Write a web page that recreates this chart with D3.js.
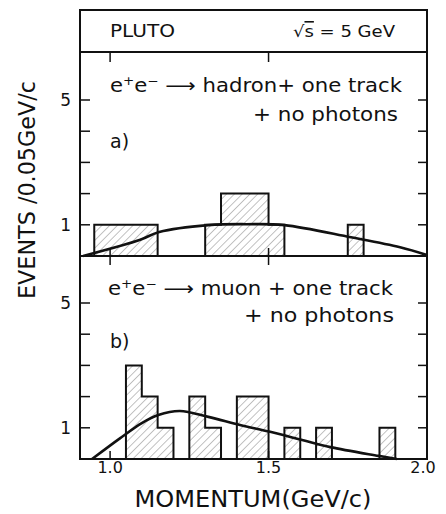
<!DOCTYPE html>
<html>
<head>
<meta charset="utf-8">
<script src="https://cdn.jsdelivr.net/npm/d3@7/dist/d3.min.js"></script>
<style>
  body { margin: 0; background: #fff; }
  text { font-family: "DejaVu Sans", "Noto Sans", sans-serif; fill: #111; }
</style>
</head>
<body>
<svg id="chart"></svg>
<script>
// histogram bins (left edge, GeV/c) and counts per 0.05 GeV/c
var binWidth = 0.05;
var histA_lo = [0.95, 1.00, 1.05, 1.10, 1.30, 1.35, 1.40, 1.45, 1.50, 1.75];
var histA_n  = [1, 1, 1, 1, 1, 2, 2, 2, 1, 1];
var histB_lo = [1.05, 1.10, 1.15, 1.25, 1.30, 1.40, 1.45, 1.55, 1.65, 1.85];
var histB_n  = [3, 2, 1, 2, 1, 2, 2, 1, 1, 1];

// expected spectra (smooth curves)
var curveA_x = [0.915, 1.095, 1.155, 1.31, 1.43, 1.55, 1.76, 1.915, 2.0];
var curveA_y = [0.0, 0.52, 0.77, 0.99, 1.02, 0.99, 0.6, 0.28, 0.03];
var curveB_x = [0.943, 1.032, 1.10, 1.152, 1.22, 1.31, 1.41, 1.505, 1.606, 1.695, 1.847, 1.905];
var curveB_y = [0.0, 0.67, 1.15, 1.41, 1.54, 1.35, 1.09, 0.87, 0.61, 0.38, 0.1, 0.0];

var xTicks = [1.0, 1.5, 2.0];
var xTickLabels = ["1.0", "1.5", "2.0"];
var yTicks = [1, 2, 3, 4, 5];
var yTickLabels = {1: "1", 5: "5"};

var W = 446, H = 514;
var frameL = 80, frameR = 427, frameT = 10, headerB = 52, midY = 256, frameB = 459;

var svg = d3.select("#chart").attr("width", W).attr("height", H);

var x = d3.scaleLinear().domain([0.905, 2.0]).range([frameL, frameR]);
var yA = d3.scaleLinear().domain([0, 5]).range([midY, 100]);
var yB = d3.scaleLinear().domain([0, 5]).range([frameB, 303]);

// hatch pattern
var defs = svg.append("defs");
var pat = defs.append("pattern")
	.attr("id", "hatch")
	.attr("patternUnits", "userSpaceOnUse")
	.attr("width", 5.5).attr("height", 5.5)
	.attr("patternTransform", "rotate(45)");
pat.append("line")
	.attr("x1", 0).attr("y1", 0).attr("x2", 0).attr("y2", 5.5)
	.attr("stroke", "#666").attr("stroke-width", 0.8);

// turn bins into step outlines of contiguous groups
function stepPaths(lo, n, y) {
	var groups = [], cur = null;
	lo.forEach(function(l, i) {
		if (cur && Math.abs(l - cur.end) < 1e-6) {
			cur.bins.push([l, n[i]]);
			cur.end = l + binWidth;
		} else {
			cur = {bins: [[l, n[i]]], end: l + binWidth};
			groups.push(cur);
		}
	});
	return groups.map(function(g) {
		var p = d3.path();
		p.moveTo(x(g.bins[0][0]), y(0));
		g.bins.forEach(function(b) {
			p.lineTo(x(b[0]), y(b[1]));
			p.lineTo(x(b[0] + binWidth), y(b[1]));
		});
		p.lineTo(x(g.end), y(0));
		p.closePath();
		return p.toString();
	});
}

function drawPanel(lo, n, cx, cy, y) {
	svg.append("g").selectAll("path")
		.data(stepPaths(lo, n, y))
		.enter().append("path")
		.attr("d", function(d) { return d; })
		.attr("fill", "url(#hatch)")
		.attr("stroke", "#111")
		.attr("stroke-width", 2);

	var pts = cx.map(function(v, i) { return [v, cy[i]]; });
	svg.append("path")
		.datum(pts)
		.attr("fill", "none")
		.attr("stroke", "#111")
		.attr("stroke-width", 2.6)
		.attr("d", d3.line()
			.x(function(d) { return x(d[0]); })
			.y(function(d) { return y(d[1]); })
			.curve(d3.curveCatmullRom));

	// y ticks, left and right, inward
	svg.append("g").selectAll("line.l")
		.data(yTicks).enter().append("line")
		.attr("x1", frameL).attr("x2", frameL + 10)
		.attr("y1", function(d) { return y(d); })
		.attr("y2", function(d) { return y(d); })
		.attr("stroke", "#111").attr("stroke-width", 1.5);
	svg.append("g").selectAll("line.r")
		.data(yTicks).enter().append("line")
		.attr("x1", frameR).attr("x2", frameR - 9)
		.attr("y1", function(d) { return y(d); })
		.attr("y2", function(d) { return y(d); })
		.attr("stroke", "#111").attr("stroke-width", 1.5);
	svg.append("g").selectAll("text")
		.data(yTicks.filter(function(d) { return yTickLabels[d]; }))
		.enter().append("text")
		.attr("x", 71)
		.attr("y", function(d) { return y(d) + 6; })
		.attr("text-anchor", "end")
		.style("font-size", "17px")
		.text(function(d) { return yTickLabels[d]; });
}

drawPanel(histA_lo, histA_n, curveA_x, curveA_y, yA);
drawPanel(histB_lo, histB_n, curveB_x, curveB_y, yB);

// frame
svg.append("rect")
	.attr("x", frameL).attr("y", frameT)
	.attr("width", frameR - frameL).attr("height", frameB - frameT)
	.attr("fill", "none").attr("stroke", "#111").attr("stroke-width", 2);
svg.append("line")
	.attr("x1", frameL).attr("x2", frameR).attr("y1", headerB).attr("y2", headerB)
	.attr("stroke", "#111").attr("stroke-width", 2);
svg.append("line")
	.attr("x1", frameL).attr("x2", frameR).attr("y1", midY).attr("y2", midY)
	.attr("stroke", "#111").attr("stroke-width", 2);

// x ticks: top of panel a, across the divider, bottom of panel b
var inner = xTicks.filter(function(d) { return d < 2.0; });
var tickSegs = [];
inner.forEach(function(d) {
	tickSegs.push([d, headerB, headerB + 10]);
	tickSegs.push([d, midY - 8, midY + 9]);
	tickSegs.push([d, frameB - 8, frameB]);
});
svg.append("g").selectAll("line")
	.data(tickSegs).enter().append("line")
	.attr("x1", function(d) { return x(d[0]); })
	.attr("x2", function(d) { return x(d[0]); })
	.attr("y1", function(d) { return d[1]; })
	.attr("y2", function(d) { return d[2]; })
	.attr("stroke", "#111").attr("stroke-width", 1.5);

svg.append("g").selectAll("text")
	.data(xTicks).enter().append("text")
	.attr("x", function(d) { return x(d) - (d === 2.0 ? 4 : 0); })
	.attr("y", 473)
	.attr("text-anchor", "middle")
	.style("font-size", "16px")
	.text(function(d, i) { return xTickLabels[i]; });

// axis titles
svg.append("text")
	.attr("x", 253).attr("y", 507)
	.attr("text-anchor", "middle")
	.attr("textLength", 237).attr("lengthAdjust", "spacingAndGlyphs")
	.style("font-size", "23px")
	.text("MOMENTUM(GeV/c)");

svg.append("text")
	.attr("transform", "translate(35,190) rotate(-90)")
	.attr("text-anchor", "middle")
	.attr("textLength", 218).attr("lengthAdjust", "spacingAndGlyphs")
	.style("font-size", "23px")
	.text("EVENTS /0.05GeV/c");

// header
svg.append("text")
	.attr("x", 110).attr("y", 37)
	.attr("textLength", 65).attr("lengthAdjust", "spacingAndGlyphs")
	.style("font-size", "17px")
	.text("PLUTO");
var rs = svg.append("text")
	.attr("x", 293).attr("y", 37)
	.attr("textLength", 102).attr("lengthAdjust", "spacingAndGlyphs")
	.style("font-size", "16px");
rs.append("tspan").text("\u221A");
rs.append("tspan").style("text-decoration", "overline").text("s");
rs.append("tspan").text(" = 5  GeV");

// reaction labels
function reaction(xp, yp, len, product) {
	var t = svg.append("text")
		.attr("x", xp).attr("y", yp)
		.attr("textLength", len).attr("lengthAdjust", "spacingAndGlyphs")
		.style("font-size", "19px");
	t.append("tspan").text("e");
	t.append("tspan").attr("dy", -7).style("font-size", "12px").text("+");
	t.append("tspan").attr("dy", 7).text("e");
	t.append("tspan").attr("dy", -7).style("font-size", "12px").text("\u2212");
	t.append("tspan").attr("dy", 7).text(" \u27F6 " + product);
}
reaction(110, 92, 292, "hadron+ one track");
svg.append("text")
	.attr("x", 398).attr("y", 121)
	.attr("text-anchor", "end")
	.attr("textLength", 145).attr("lengthAdjust", "spacingAndGlyphs")
	.style("font-size", "19px")
	.text("+ no photons");
svg.append("text")
	.attr("x", 110).attr("y", 148)
	.style("font-size", "19px")
	.text("a)");

reaction(108, 295, 285, "muon + one track");
svg.append("text")
	.attr("x", 394).attr("y", 322)
	.attr("text-anchor", "end")
	.attr("textLength", 150).attr("lengthAdjust", "spacingAndGlyphs")
	.style("font-size", "19px")
	.text("+ no photons");
svg.append("text")
	.attr("x", 110).attr("y", 348)
	.style("font-size", "19px")
	.text("b)");
</script>
</body>
</html>
